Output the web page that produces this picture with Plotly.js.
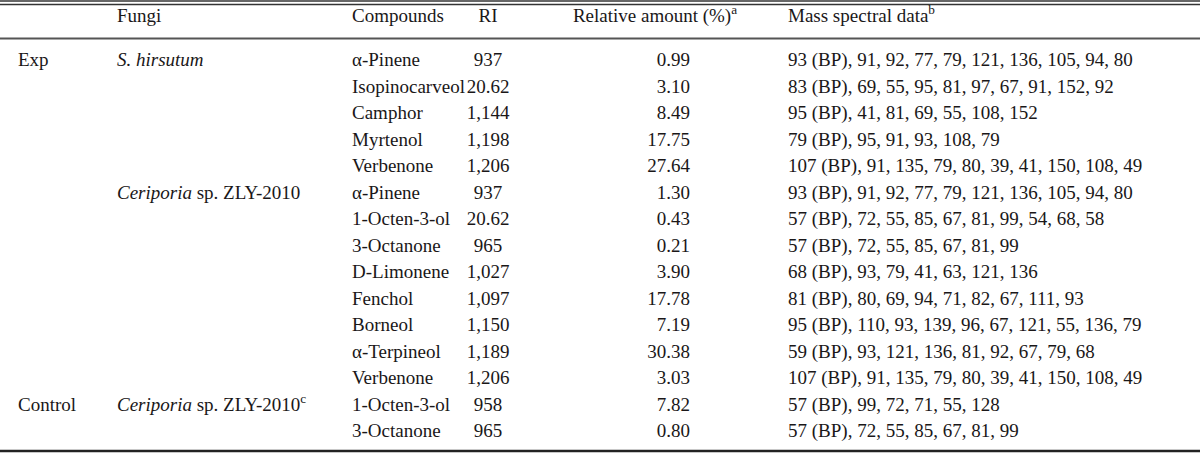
<!DOCTYPE html>
<html>
<head>
<meta charset="utf-8">
<script src="https://cdn.plot.ly/plotly-3.0.1.min.js"></script>
<style>html,body{margin:0;padding:0;background:#fff;}#chart{width:1200px;height:453px;}</style>
</head>
<body>
<div id="chart"></div>
<script>
// ---- data ----
const headers = ["Fungi", "Compounds", "RI", "Relative amount (%)<sup>a</sup>", "Mass spectral data<sup>b</sup>"];
const groups = ["Exp", "", "", "", "", "", "", "", "", "", "", "", "", "Control", ""];
const fungi = ["<i>S. hirsutum</i>", "", "", "", "", "<i>Ceriporia</i> sp. ZLY-2010", "", "", "", "", "", "", "", "<i>Ceriporia</i> sp. ZLY-2010<sup>c</sup>", ""];
const compounds = ["α-Pinene", "Isopinocarveol", "Camphor", "Myrtenol", "Verbenone", "α-Pinene", "1-Octen-3-ol", "3-Octanone", "D-Limonene", "Fenchol", "Borneol", "α-Terpineol", "Verbenone", "1-Octen-3-ol", "3-Octanone"];
const ri = ["937", "20.62", "1,144", "1,198", "1,206", "937", "20.62", "965", "1,027", "1,097", "1,150", "1,189", "1,206", "958", "965"];
const relAmount = ["0.99", "3.10", "8.49", "17.75", "27.64", "1.30", "0.43", "0.21", "3.90", "17.78", "7.19", "30.38", "3.03", "7.82", "0.80"];
const massData = [
  "93 (BP), 91, 92, 77, 79, 121, 136, 105, 94, 80",
  "83 (BP), 69, 55, 95, 81, 97, 67, 91, 152, 92",
  "95 (BP), 41, 81, 69, 55, 108, 152",
  "79 (BP), 95, 91, 93, 108, 79",
  "107 (BP), 91, 135, 79, 80, 39, 41, 150, 108, 49",
  "93 (BP), 91, 92, 77, 79, 121, 136, 105, 94, 80",
  "57 (BP), 72, 55, 85, 67, 81, 99, 54, 68, 58",
  "57 (BP), 72, 55, 85, 67, 81, 99",
  "68 (BP), 93, 79, 41, 63, 121, 136",
  "81 (BP), 80, 69, 94, 71, 82, 67, 111, 93",
  "95 (BP), 110, 93, 139, 96, 67, 121, 55, 136, 79",
  "59 (BP), 93, 121, 136, 81, 92, 67, 79, 68",
  "107 (BP), 91, 135, 79, 80, 39, 41, 150, 108, 49",
  "57 (BP), 99, 72, 71, 55, 128",
  "57 (BP), 72, 55, 85, 67, 81, 99"
];

// ---- layout constants ----
const W = 1200, H = 453;
const FONT = "'Liberation Serif', 'DejaVu Serif', serif";
const FS = 19;
const COLOR = "#1a1718";
const headerY = 17.5;
const firstRowY = 61.5;
const rowStep = 26.5;
const colX = [18, 117, 352, 488, 690, 788];
const colPos = ["middle right", "middle right", "middle right", "middle center", "middle left", "middle right"];

const rowY = compounds.map((_, i) => firstRowY + i * rowStep);
const columns = [groups, fungi, compounds, ri, relAmount, massData];

const traces = [];
columns.forEach((col, c) => {
  const idx = col.map((t, i) => i).filter(i => col[i] !== "");
  traces.push({
    type: "scatter", mode: "text",
    x: idx.map(() => colX[c]), y: idx.map(i => rowY[i]), text: idx.map(i => col[i]),
    textposition: colPos[c],
    textfont: {family: FONT, size: FS, color: COLOR},
    hoverinfo: "skip", showlegend: false, cliponaxis: false
  });
});
// header row
const headerX = [117, 352, 488, 655, 788];
const headerPos = ["middle right", "middle right", "middle center", "middle center", "middle right"];
traces.push({
  type: "scatter", mode: "text",
  x: headerX, y: headers.map(() => headerY), text: headers,
  textposition: headerPos,
  textfont: {family: FONT, size: FS, color: COLOR},
  hoverinfo: "skip", showlegend: false, cliponaxis: false
});

const line = (y, w, color) => ({type: "line", xref: "paper", yref: "y", x0: 0, x1: 1, y0: y, y1: y, line: {color: color, width: w}});

const layout = {
  width: W, height: H,
  margin: {l: 0, r: 0, t: 0, b: 0},
  paper_bgcolor: "#fff", plot_bgcolor: "#fff",
  xaxis: {range: [0, W], visible: false, fixedrange: true},
  yaxis: {range: [H, 0], visible: false, fixedrange: true},
  shapes: [line(1, 1.5, "#333"), line(4.5, 1.5, "#333"), line(38.5, 2, "#555"), line(451, 2.5, "#222")],
  showlegend: false
};

Plotly.newPlot("chart", traces, layout, {staticPlot: true, displayModeBar: false});
</script>
</body>
</html>
